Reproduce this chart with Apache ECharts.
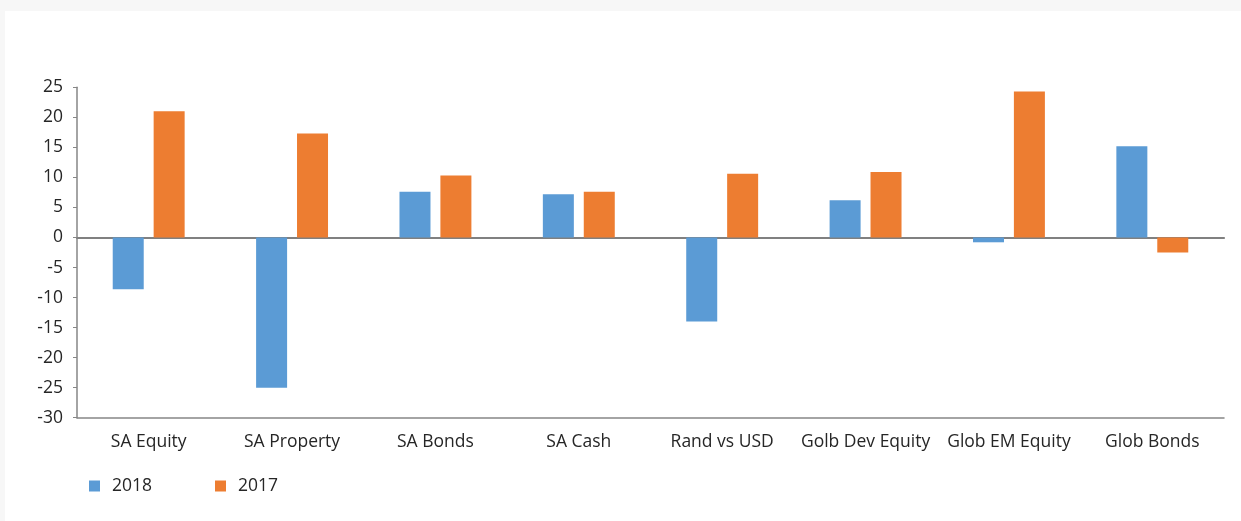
<!DOCTYPE html>
<html>
<head>
<meta charset="utf-8">
<script src="https://cdn.jsdelivr.net/npm/echarts@6/dist/echarts.min.js"></script>
<style>
html,body{margin:0;padding:0;background:#f7f7f7;width:1241px;height:521px;overflow:hidden;}
#chart{position:absolute;left:5px;top:11px;width:1236px;height:510px;background:#ffffff;}
</style>
</head>
<body>
<div id="chart"></div>
<script>
const categories = ['SA Equity','SA Property','SA Bonds','SA Cash','Rand vs USD','Golb Dev Equity','Glob EM Equity','Glob Bonds'];
const values2018 = [-8.6, -25.0, 7.6, 7.2, -14.0, 6.2, -0.8, 15.2];
const values2017 = [21.0, 17.3, 10.3, 7.6, 10.6, 10.9, 24.3, -2.5];
const yTicks = {min: -30, max: 25, interval: 5};

const chart = echarts.init(document.getElementById('chart'));
const font = 'Open Sans, Noto Sans, sans-serif';
chart.setOption({
  animation: false,
  grid: {left: 72, right: 17, top: 76.3, bottom: 103.3},
  legend: {
    left: 79, top: 461,
    itemWidth: 11, itemHeight: 11, itemGap: 63,
    icon: 'rect',
    textStyle: {fontFamily: font, fontSize: 17.5, color: '#262626', padding: [0,0,0,7]},
    data: ['2018','2017']
  },
  xAxis: [{
    type: 'category', data: categories,
    axisLine: {onZero: false, lineStyle: {color: '#868686', width: 1.5}},
    axisTick: {show: false},
    axisLabel: {fontFamily: font, fontSize: 17.5, color: '#262626', margin: 15, interval: 0}
  },{
    type: 'category', data: categories, position: 'bottom',
    axisLine: {onZero: true, lineStyle: {color: '#808080', width: 2.2}},
    axisTick: {show: false}, axisLabel: {show: false}
  }],
  yAxis: {
    type: 'value', min: yTicks.min, max: yTicks.max, interval: yTicks.interval,
    axisLine: {show: true, lineStyle: {color: '#868686', width: 1.5}},
    axisTick: {show: true, length: 4, lineStyle: {color: '#868686'}},
    splitLine: {show: false},
    axisLabel: {fontFamily: font, fontSize: 17.5, color: '#262626', margin: 14}
  },
  series: [{
    name: '2018', type: 'bar', data: values2018, barWidth: 31, barGap: '32%',
    itemStyle: {color: '#5B9BD5'}
  },{
    name: '2017', type: 'bar', data: values2017, barWidth: 31,
    itemStyle: {color: '#ED7D31'}
  }]
});
</script>
</body>
</html>
